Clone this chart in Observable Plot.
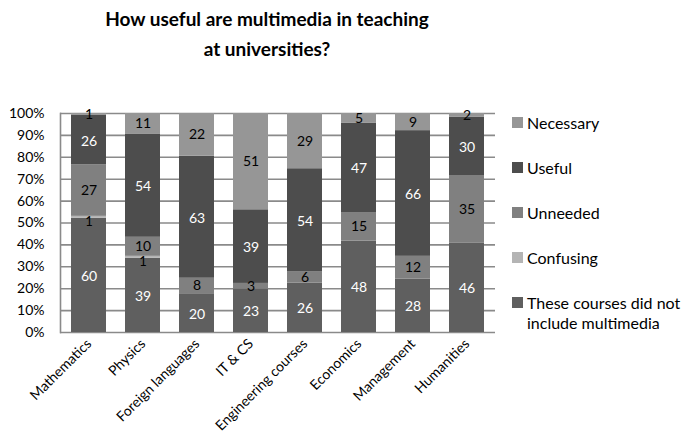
<!DOCTYPE html>
<html>
<head>
<meta charset="utf-8">
<script src="https://cdn.jsdelivr.net/npm/d3@7"></script>
<script src="https://cdn.jsdelivr.net/npm/@observablehq/plot@0.6"></script>
<style>
  html, body { margin: 0; padding: 0; background: #fff; }
  #wrap { position: relative; width: 693px; height: 446px; overflow: hidden; font-family: Lato, "Open Sans", sans-serif; }
  #title { position: absolute; left: 0; top: 4px; width: 534px; text-align: center; font-family: "Lato", sans-serif; font-weight: bold; font-size: 19px; line-height: 30px; color: #000; }
  #chart { position: absolute; left: 0; top: 100px; }
  .lg-sw { position: absolute; width: 11px; height: 11px; }
  .lg-tx { position: absolute; font-size: 16px; line-height: 20px; color: #000; width: 166px; }
</style>
</head>
<body>
<div id="wrap">
  <div id="title">How useful are multimedia in teaching<br>at universities?</div>
  <div id="chart"></div>
  <div id="legend"></div>
</div>
<script>
// ---- data ----
const categories = ["Mathematics", "Physics", "Foreign languages", "IT & CS", "Engineering courses", "Economics", "Management", "Humanities"];
const seriesNames = ["These courses did not include multimedia", "Confusing", "Unneeded", "Useful", "Necessary"];
const noMultimedia = [60, 39, 20, 23, 26, 48, 28, 46];
const confusing    = [1, 1, 0, 0, 0, 0, 0, 0];
const unneeded     = [27, 10, 8, 3, 6, 15, 12, 35];
const useful       = [26, 54, 63, 39, 54, 47, 66, 30];
const necessary    = [1, 11, 22, 51, 29, 5, 9, 2];
const yTickValues  = [0, 0.1, 0.2, 0.3, 0.4, 0.5, 0.6, 0.7, 0.8, 0.9, 1];
const yTickLabels  = ["0%", "10%", "20%", "30%", "40%", "50%", "60%", "70%", "80%", "90%", "100%"];

const seriesColors = ["#5f5f5f", "#b4b4b4", "#808080", "#4d4d4d", "#969696"];
const whiteLabelSeries = new Set(["These courses did not include multimedia", "Useful"]);

const seriesValues = [noMultimedia, confusing, unneeded, useful, necessary];
const data = [];
seriesNames.forEach((s, si) => {
  categories.forEach((c, ci) => data.push({category: c, series: s, value: seriesValues[si][ci]}));
});

const stackOpts = (extra) => Plot.stackY({offset: "normalize", x: "category", y: "value", z: "series", order: seriesNames, ...extra});

const chart = Plot.plot({
  width: 693,
  height: 346,
  marginTop: 13,
  marginBottom: 114,
  marginLeft: 60,
  marginRight: 198,
  style: {fontFamily: "Lato, 'Open Sans', sans-serif", fontSize: "14px", color: "#000", background: "transparent", overflow: "visible"},
  x: {domain: categories, paddingInner: 0.357, paddingOuter: 0.18, label: null},
  y: {domain: [0, 1], label: null},
  color: {domain: seriesNames, range: seriesColors},
  marks: [
    Plot.gridY({ticks: yTickValues, stroke: "#8a8a8a", strokeOpacity: 1, strokeWidth: 1.6}),
    Plot.barY(data, stackOpts({fill: "series"})),
    Plot.text(data, stackOpts({
      text: d => (d.value > 0 && whiteLabelSeries.has(d.series)) ? String(d.value) : null,
      fill: "white", fontSize: 14, dy: 1
    })),
    Plot.text(data, stackOpts({
      text: d => (d.value > 0 && !whiteLabelSeries.has(d.series) && d.series !== "Confusing") ? String(d.value) : null,
      fill: "black", fontSize: 14, dy: 0
    })),
    Plot.text(data, stackOpts({
      text: d => (d.value > 0 && d.series === "Confusing") ? String(d.value) : null,
      fill: "black", fontSize: 13, dy: 5
    })),
    Plot.axisY({ticks: yTickValues, tickFormat: (d) => yTickLabels[yTickValues.indexOf(d)], tickSize: 0, tickPadding: 16, fontSize: 14, label: null}),
    Plot.axisX({tickRotate: -45, tickSize: 0, tickPadding: 9, fontSize: 14, label: null}),
    Plot.frame({anchor: "left", stroke: "#8a8a8a", strokeWidth: 1.6})
  ]
});
document.getElementById("chart").appendChild(chart);

// ---- legend (top to bottom: reverse stack order) ----
const legend = document.getElementById("legend");
const rowCenters = [123, 168, 213, 258, 303];
seriesNames.slice().reverse().forEach((s, i) => {
  const color = seriesColors[seriesNames.indexOf(s)];
  const sw = document.createElement("div");
  sw.className = "lg-sw";
  sw.style.left = "512px";
  sw.style.top = (rowCenters[i] - 6) + "px";
  sw.style.background = color;
  legend.appendChild(sw);
  const tx = document.createElement("div");
  tx.className = "lg-tx";
  tx.style.left = "527px";
  tx.style.top = (rowCenters[i] - 10) + "px";
  tx.textContent = s;
  legend.appendChild(tx);
});
</script>
</body>
</html>
